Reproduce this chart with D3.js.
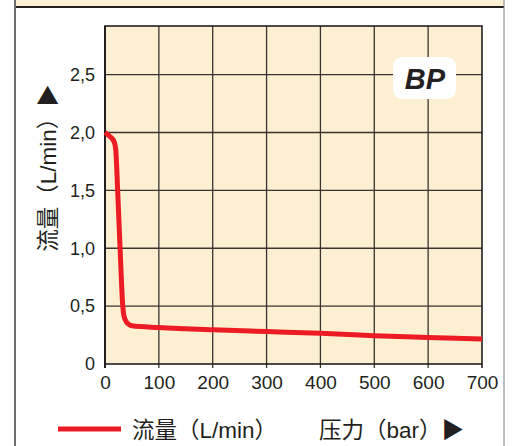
<!DOCTYPE html>
<html>
<head>
<meta charset="utf-8">
<script src="https://d3js.org/d3.v7.min.js"></script>
<style>
    body { margin: 0; background: #fff; }
    svg text { font-family: "Liberation Sans", Arial, "Noto Sans CJK SC", sans-serif; fill: #231f20; }
</style>
</head>
<body>
<svg id="chart" width="512" height="446"></svg>
<script>
    // curve: pressure (bar) vs flow (L/min)
    const pressure = [0, 8, 17, 20, 23.5, 28, 33, 35, 40, 50, 100, 200, 300, 400, 500, 600, 700];
    const flow = [2.0, 1.97, 1.92, 1.85, 1.5, 1.0, 0.5, 0.42, 0.36, 0.33, 0.315, 0.295, 0.28, 0.265, 0.245, 0.23, 0.215];
    const xTicks = [0, 100, 200, 300, 400, 500, 600, 700];
    const yTicks = [0, 0.5, 1.0, 1.5, 2.0, 2.5];
    const yTickLabels = ["0", "0,5", "1,0", "1,5", "2,0", "2,5"];
    const yTitle = "流量（L/min）▶";
    const legendLabel = "流量（L/min）";
    const xTitle = "压力（bar）▶";
    const badge = "BP";

    const svg = d3.select("#chart");
    const margin = { top: 26, left: 105 };
    const chartWidth = 377;
    const chartHeight = 338;

    // outer frame
    svg.append("rect").attr("x", 15).attr("y", 0).attr("width", 489).attr("height", 7).attr("fill", "#fdefd2");
    svg.append("line").attr("x1", 15).attr("x2", 504).attr("y1", 7).attr("y2", 7)
        .attr("stroke", "#231f20").attr("stroke-width", 2);
    svg.append("line").attr("x1", 15).attr("x2", 15).attr("y1", 0).attr("y2", 446)
        .attr("stroke", "#6d6e71").attr("stroke-width", 2);
    svg.append("line").attr("x1", 504).attr("x2", 504).attr("y1", 0).attr("y2", 446)
        .attr("stroke", "#808285").attr("stroke-width", 1);

    const x = d3.scaleLinear().domain([0, 700]).range([0, chartWidth]);
    const y = d3.scaleLinear().domain([0, 2.92]).range([chartHeight, 0]);

    const chart = svg.append("g").attr("transform", `translate(${margin.left},${margin.top})`);

    chart.append("rect").attr("width", chartWidth).attr("height", chartHeight).attr("fill", "#fdefd2");

    // gridlines
    chart.append("g")
        .selectAll("line")
        .data(xTicks.slice(1, -1))
        .join("line")
        .attr("x1", d => x(d)).attr("x2", d => x(d))
        .attr("y1", 0).attr("y2", chartHeight + 4)
        .attr("stroke", "#3a3330").attr("stroke-width", 1.3);
    chart.append("g")
        .selectAll("line")
        .data(yTicks.slice(1))
        .join("line")
        .attr("x1", 0).attr("x2", chartWidth)
        .attr("y1", d => y(d)).attr("y2", d => y(d))
        .attr("stroke", "#3a3330").attr("stroke-width", 1.3);

    // plot border
    chart.append("rect").attr("width", chartWidth).attr("height", chartHeight)
        .attr("fill", "none").attr("stroke", "#231f20").attr("stroke-width", 1.6);
    chart.append("line").attr("x1", 0).attr("x2", 0).attr("y1", 0).attr("y2", chartHeight + 4)
        .attr("stroke", "#231f20").attr("stroke-width", 2);
    chart.append("line").attr("x1", chartWidth).attr("x2", chartWidth).attr("y1", chartHeight).attr("y2", chartHeight + 4)
        .attr("stroke", "#231f20").attr("stroke-width", 1.6);

    // axes
    const xAxis = d3.axisBottom(x).tickValues(xTicks).tickSize(0).tickPadding(12).tickFormat(d3.format("d"));
    const gx = chart.append("g").attr("transform", `translate(0,${chartHeight})`).call(xAxis);
    gx.select(".domain").remove();
    gx.selectAll("text").attr("font-size", 19).attr("fill", "#231f20").style("font-family", null);

    const yAxis = d3.axisLeft(y).tickValues(yTicks).tickSize(0).tickPadding(10)
        .tickFormat((d, i) => yTickLabels[i]);
    const gy = chart.append("g").call(yAxis);
    gy.select(".domain").remove();
    gy.selectAll("text").attr("font-size", 18).attr("fill", "#231f20").style("font-family", null);

    // curve
    const line = d3.line()
        .x((d, i) => x(pressure[i]))
        .y(d => y(d))
        .curve(d3.curveMonotoneX);
    chart.append("path")
        .datum(flow)
        .attr("d", line)
        .attr("fill", "none")
        .attr("stroke", "#ed1c24")
        .attr("stroke-width", 5)
        .attr("stroke-linejoin", "round");

    // badge
    svg.append("rect").attr("x", 393).attr("y", 57).attr("width", 63).attr("height", 42).attr("rx", 9)
        .attr("fill", "#fff");
    svg.append("text").attr("x", 425).attr("y", 89).attr("text-anchor", "middle")
        .attr("font-size", 29).attr("font-weight", "bold").attr("font-style", "italic")
        .text(badge);

    // y title
    svg.append("text")
        .attr("transform", "translate(56,168) rotate(-90)")
        .attr("text-anchor", "middle")
        .attr("font-size", 22.5)
        .text(yTitle);

    // legend
    svg.append("line").attr("x1", 58).attr("x2", 121).attr("y1", 429).attr("y2", 429)
        .attr("stroke", "#ed1c24").attr("stroke-width", 5);
    svg.append("text").attr("x", 132).attr("y", 438).attr("font-size", 22.5).text(legendLabel);
    svg.append("text").attr("x", 319).attr("y", 438).attr("font-size", 22.5).text(xTitle);
</script>
</body>
</html>
